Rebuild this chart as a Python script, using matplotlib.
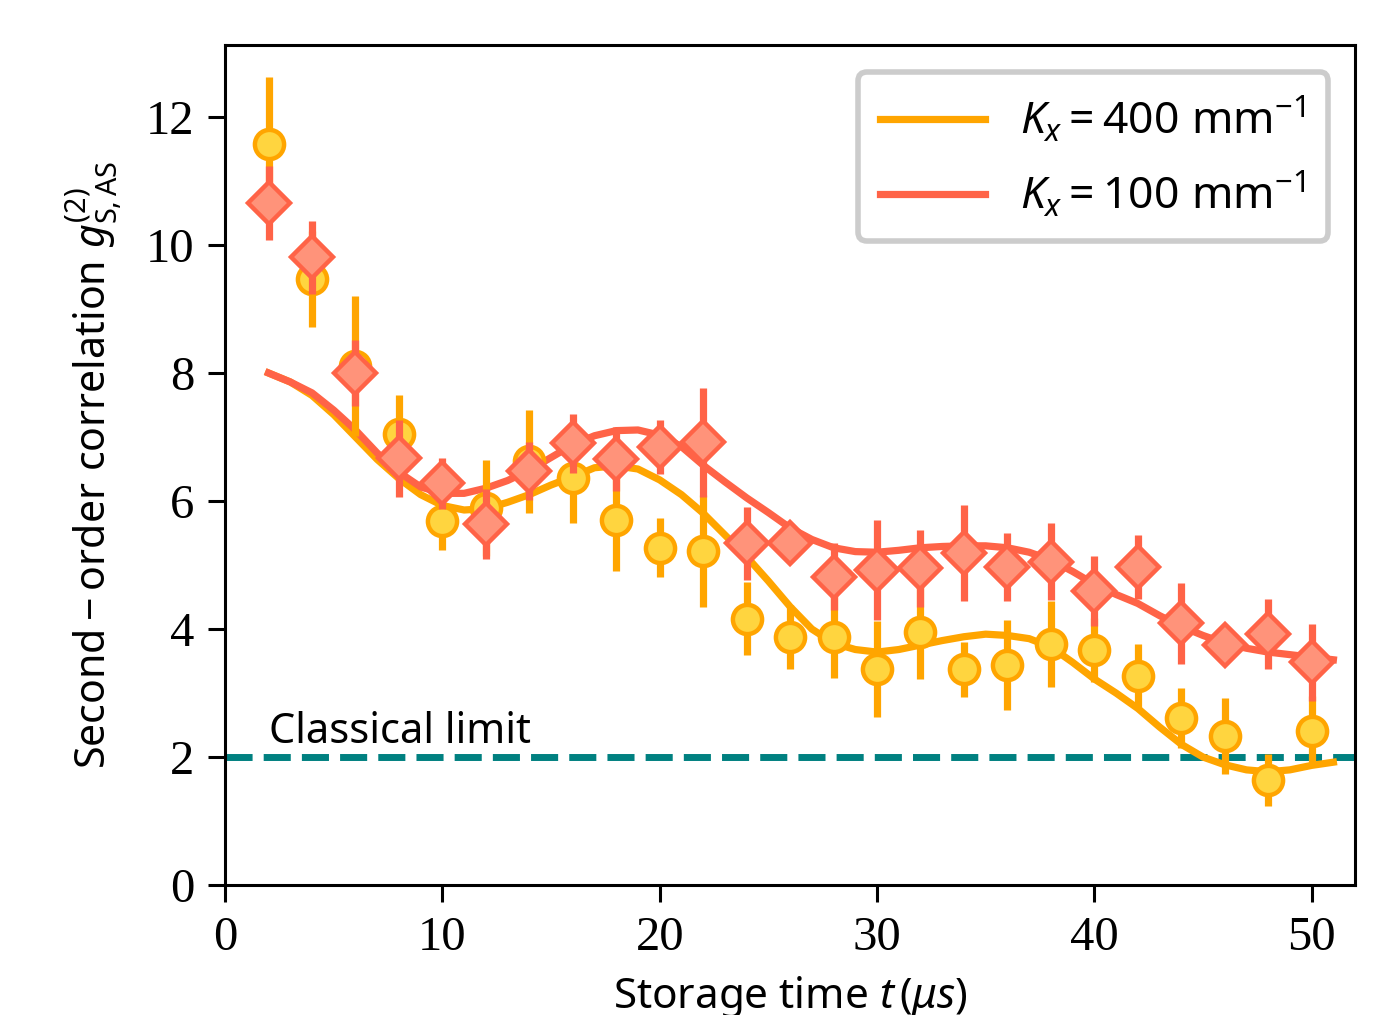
import matplotlib
matplotlib.use('Agg')
import matplotlib.pyplot as plt

# Measured points (storage time in us)
t_points = [2, 4, 6, 8, 10, 12, 14, 16, 18, 20, 22, 24, 26,
            28, 30, 32, 34, 36, 38, 40, 42, 44, 46, 48, 50]

g2_400 = [11.58, 9.47, 8.11, 7.05, 5.69, 5.89, 6.62, 6.36, 5.70, 5.27,
          5.22, 4.16, 3.87, 3.88, 3.37, 3.95, 3.37, 3.44, 3.77, 3.67,
          3.27, 2.61, 2.33, 1.64, 2.41]
err_400 = [1.05, 0.75, 1.10, 0.60, 0.45, 0.75, 0.80, 0.70, 0.80, 0.46,
           0.87, 0.57, 0.50, 0.65, 0.75, 0.73, 0.43, 0.70, 0.67, 0.50,
           0.50, 0.47, 0.60, 0.41, 0.54]

g2_100 = [10.66, 9.81, 8.00, 6.67, 6.28, 5.64, 6.47, 6.90, 6.66, 6.85,
          6.92, 5.34, 5.34, 4.82, 4.92, 4.95, 5.19, 4.97, 5.05, 4.59,
          4.97, 4.09, 3.75, 3.92, 3.48]
err_100 = [0.58, 0.57, 0.51, 0.60, 0.40, 0.55, 0.45, 0.46, 0.50, 0.42,
           0.85, 0.57, 0.30, 0.53, 0.78, 0.60, 0.75, 0.53, 0.60, 0.55,
           0.50, 0.63, 0.25, 0.55, 0.60]

# Theory curves
t_fit = list(range(2, 52))
fit_400 = [8.00, 7.86, 7.65, 7.35, 7.00, 6.65, 6.35, 6.10, 5.93, 5.86,
           5.88, 5.98, 6.10, 6.25, 6.38, 6.52, 6.55, 6.50, 6.33, 6.10,
           5.81, 5.47, 5.13, 4.75, 4.35, 4.00, 3.78, 3.68, 3.64, 3.68,
           3.75, 3.82, 3.88, 3.92, 3.90, 3.85, 3.72, 3.48, 3.22, 3.00,
           2.76, 2.47, 2.20, 2.00, 1.88, 1.80, 1.77, 1.80, 1.87, 1.92]
fit_100 = [8.00, 7.86, 7.69, 7.42, 7.11, 6.75, 6.45, 6.22, 6.12, 6.12,
           6.20, 6.32, 6.48, 6.68, 6.88, 7.02, 7.10, 7.11, 7.03, 6.85,
           6.56, 6.30, 6.05, 5.82, 5.58, 5.40, 5.27, 5.21, 5.20, 5.23,
           5.27, 5.29, 5.30, 5.30, 5.27, 5.20, 5.08, 4.90, 4.70, 4.54,
           4.40, 4.21, 4.04, 3.90, 3.78, 3.70, 3.64, 3.60, 3.56, 3.52]

classical_limit = 2

sans = 'Noto Sans'
serif = 'Liberation Serif'
plt.rcParams['mathtext.fontset'] = 'custom'
plt.rcParams['mathtext.rm'] = sans
plt.rcParams['mathtext.it'] = sans + ':italic'
plt.rcParams['mathtext.bf'] = sans + ':bold'


def draw(axis):
    # fitted curves
    axis.plot(t_fit, fit_400, color='#FFA500', lw=2.6, zorder=3,
              label=r'$K_x = 400\ \mathrm{mm}^{-1}$')
    axis.plot(t_fit, fit_100, color='#FF6347', lw=2.6, zorder=3,
              label=r'$K_x = 100\ \mathrm{mm}^{-1}$')

    # data with error bars, red set on top
    axis.errorbar(t_points, g2_400, yerr=err_400, fmt='o', ms=10.5,
                  color='#FFA500', mfc='#FFD53F', mec='#FFA500', mew=1.6,
                  elinewidth=2.6, capsize=0, zorder=4)
    axis.errorbar(t_points, g2_100, yerr=err_100, fmt='D', ms=10.5,
                  color='#FF6347', mfc='#FF937A', mec='#FF6347', mew=1.6,
                  elinewidth=2.6, capsize=0, zorder=5)

    axis.axhline(classical_limit, color='#008080', lw=2.5,
                 dashes=(3.9, 1.6), zorder=2)
    axis.text(2, classical_limit + 0.22, 'Classical limit',
              family=sans, fontsize=15)

    axis.set_xlim(0, 52)
    axis.set_ylim(0, 13.125)
    axis.set_xticks(range(0, 51, 10))
    axis.set_yticks(range(0, 13, 2))
    axis.tick_params(direction='out', length=6, width=1.1, labelsize=17.5,
                     pad=5)
    for lab in axis.get_xticklabels() + axis.get_yticklabels():
        lab.set_family(serif)
    for side in axis.spines.values():
        side.set_linewidth(1.1)

    axis.set_xlabel(r'Storage time $t\,(\mu s)$', family=sans, fontsize=15.2,
                    labelpad=5)
    axis.set_ylabel(r'$\mathrm{Second-order\ correlation}\ '
                    r'g^{(2)}_{\mathrm{S,AS}}$',
                    fontsize=14.8, labelpad=8)

    leg = axis.legend(loc='upper right', fontsize=16, handlelength=2.35,
                      handletextpad=0.8, borderpad=0.5, labelspacing=0.55,
                      fancybox=True, framealpha=1, borderaxespad=0.6)
    leg.get_frame().set_edgecolor('#CCCCCC')
    leg.get_frame().set_linewidth(2.0)
    return axis


f = plt.figure(figsize=(6.955, 5.075), dpi=200)
ax = f.add_axes([0.1618, 0.128, 0.8124, 0.8277])
draw(ax)
f.savefig('out.png', dpi=200)
